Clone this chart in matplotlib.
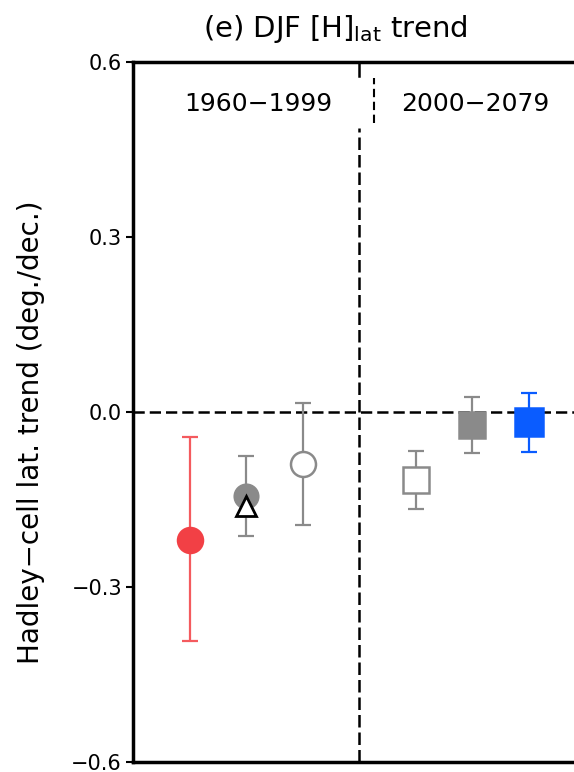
"""
DJF Hadley-cell edge latitude trend, two periods.
"""

# %% imports
import numpy as np
import matplotlib
matplotlib.use('Agg')
import matplotlib.pyplot as plt


# %% data (deg./dec.)
xpos = [1, 2, 3, 5, 6, 7]
trend = [-0.220, -0.144, -0.089, -0.117, -0.022, -0.017]
low = [-0.393, -0.213, -0.194, -0.166, -0.070, -0.068]
high = [-0.043, -0.075, 0.016, -0.067, 0.026, 0.033]
triX = [2]
triY = [-0.161]

periods = ['1960\u22121999', '2000\u22122079']
periodX = [2.22, 6.06]
periodY = 0.528
splitX = 4
yticks = [0.6, 0.3, 0.0, -0.3, -0.6]

markers = ['o', 'o', 'o', 's', 's', 's']
faces = ['#f24045', '#8a8a8a', 'white', 'white', '#8a8a8a', '#0a5cff']
edges = ['#f24045', '#8a8a8a', '#8a8a8a', '#8a8a8a', '#8a8a8a', '#0a5cff']
barcols = ['#f45a5e', '#8a8a8a', '#8a8a8a', '#8a8a8a', '#8a8a8a', '#0a5cff']
msizes = [18, 17, 18, 19, 19, 20]


# %% figure
plt.rcParams['font.family'] = 'DejaVu Sans'
fig = plt.figure(figsize=(5.74, 7.72), dpi=100)
ax = fig.add_axes([0.232, 0.013, 0.7875, 0.9067])
ax.set_xlim(0, 8)
ax.set_ylim(-0.6, 0.6)

ax.axhline(0, color='k', lw=1.8, dashes=(4.5, 2), zorder=1)
ax.plot([splitX, splitX], [-0.6, 0.487], color='k', lw=1.8, dashes=(5, 2), zorder=1)
ax.plot([splitX, splitX], [0.576, 0.6], color='k', lw=1.8, zorder=1)
ax.plot([splitX + 0.27] * 2, [0.495, 0.573], color='k', lw=1.5, dashes=(4, 2.2), zorder=1)

for i in range(len(xpos)):
    y = trend[i]
    ax.errorbar(xpos[i], y, yerr=[[y - low[i]], [high[i] - y]], fmt='none',
                ecolor=barcols[i], elinewidth=1.6, capsize=6, capthick=1.6, zorder=2)
    ax.plot(xpos[i], y, marker=markers[i], ms=msizes[i], mfc=faces[i], mec=edges[i],
            mew=1.8, ls='none', zorder=3)

ax.plot(triX, triY, marker='^', ms=15, mfc='white', mec='k', mew=2, ls='none', zorder=4)

for lab, px in zip(periods, periodX):
    ax.text(px, periodY, lab, ha='center', va='center', fontsize=18)

ax.set_yticks(yticks)
ax.set_yticklabels(['0.6', '0.3', '0.0', '\u22120.3', '\u22120.6'], fontsize=15)
ax.set_xticks([])
ax.tick_params(axis='y', direction='out', length=5, width=1.5, pad=3)
for sp in ax.spines.values():
    sp.set_linewidth(2.5)

ax.set_ylabel('Hadley\u2212cell lat. trend (deg./dec.)', fontsize=20)
ax.yaxis.set_label_coords(-0.195, 0.471)

fig.text(0.585, 0.963, r'(e) DJF [H]$_{\mathrm{lat}}$ trend', ha='center', va='center', fontsize=21)

fig.savefig('out.png', dpi=100)
